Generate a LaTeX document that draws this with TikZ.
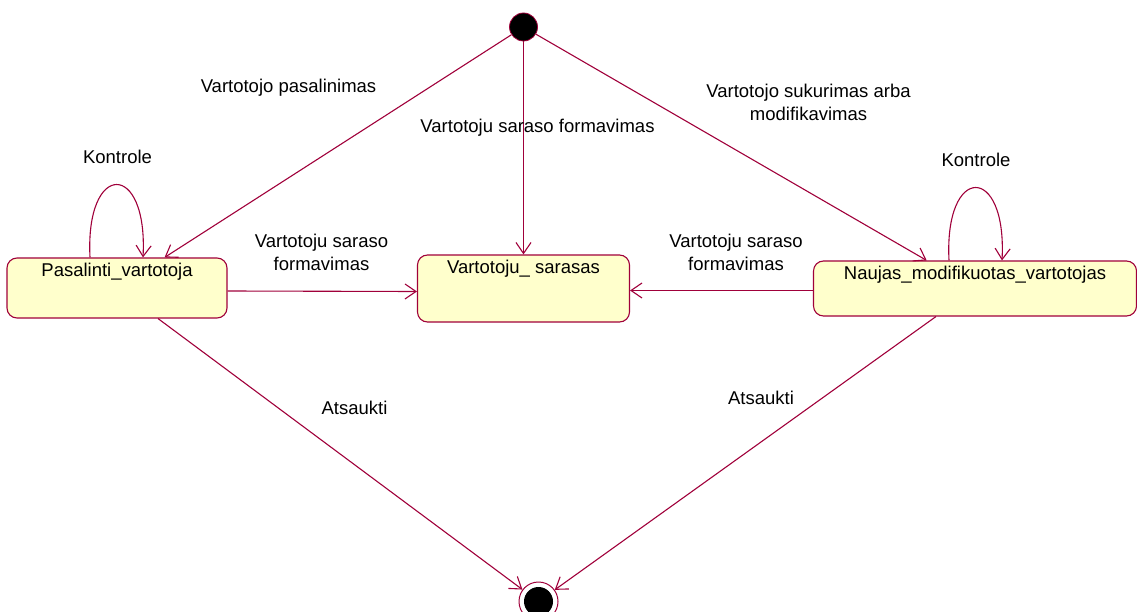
\documentclass[tikz,border=0pt]{standalone}
\usepackage{fontspec}
\setmainfont{Liberation Sans}
\usetikzlibrary{arrows.meta}
\definecolor{edgered}{RGB}{160,0,58}
\definecolor{statefill}{RGB}{255,255,204}
\begin{document}
\begin{tikzpicture}[x=1pt,y=-1pt,
  every node/.style={font=\fontsize{18.5}{23}\selectfont},
  statebox/.style={draw=edgered, fill=statefill, line width=1.1pt,
    rounded corners=10pt, inner sep=0pt},
  boxtitle/.style={anchor=north, inner sep=5pt},
  conn/.style={draw=edgered, line width=1.1pt,
    -{Straight Barb[length=11pt,width=15pt,line width=1.1pt]}},
  txt/.style={align=center, inner sep=0pt},
  startdot/.style={circle, fill=black, draw=edgered, line width=0.8pt,
    minimum size=28pt, inner sep=0pt},
]
\useasboundingbox (0,0) rectangle (1137,612);

% states
\node[statebox, minimum width=220pt, minimum height=60pt,
  label={[boxtitle]north:Pasalinti\_vartotoja}] (pas) at (117,288) {};
\node[statebox, minimum width=212pt, minimum height=67pt,
  label={[boxtitle]north:Vartotoju\_ sarasas}] (sar) at (523.5,288.5) {};
\node[statebox, minimum width=323pt, minimum height=55pt,
  label={[boxtitle]north:Naujas\_modifikuotas\_vartotojas}] (nau) at (975,288.5) {};

% initial and final pseudo-states
\node[startdot] (init) at (523.5,27) {};
\node[circle, draw=edgered, line width=1pt, minimum size=39pt, inner sep=0pt] (fin) at (538.5,601.5) {};
\node[circle, fill=black, minimum size=29pt, inner sep=0pt] (finin) at (fin.center) {};

% transitions
\draw[conn] (init) -- (pas);
\draw[conn] (init) -- (sar);
\draw[conn] (init) -- (nau);
\draw[conn] ([yshift=-3pt]pas.east) -- ([yshift=-3pt]sar.west);
\draw[conn] ([yshift=-2pt]nau.west) -- ([yshift=-2pt]sar.east);
\draw[conn] (pas) -- (fin);
\draw[conn] (nau) -- (fin);

% self transitions
\draw[conn] ([xshift=-27pt]pas.north) .. controls ([xshift=-32pt,yshift=97pt]pas.north)
  and ([xshift=31pt,yshift=97pt]pas.north) .. ([xshift=26pt]pas.north);
\draw[conn] ([xshift=-26pt]nau.north) .. controls ([xshift=-31pt,yshift=97pt]nau.north)
  and ([xshift=32pt,yshift=97pt]nau.north) .. ([xshift=27pt]nau.north);

% transition labels
\node[txt] (lpas) at (288.5,88) {Vartotojo pasalinimas};
\node[txt] (lsar) at (537.5,128) {Vartotoju saraso formavimas};
\node[txt] (lnau) at (808.5,102.5) {Vartotojo sukurimas arba\\modifikavimas};
\node[txt] (lk1) at (117.5,157) {Kontrole};
\node[txt] (lk2) at (976,160) {Kontrole};
\node[txt] (lf1) at (321.5,252.5) {Vartotoju saraso\\formavimas};
\node[txt] (lf2) at (736,252.5) {Vartotoju saraso\\formavimas};
\node[txt] (la1) at (354.5,408) {Atsaukti};
\node[txt] (la2) at (761,398) {Atsaukti};
\end{tikzpicture}
\end{document}
